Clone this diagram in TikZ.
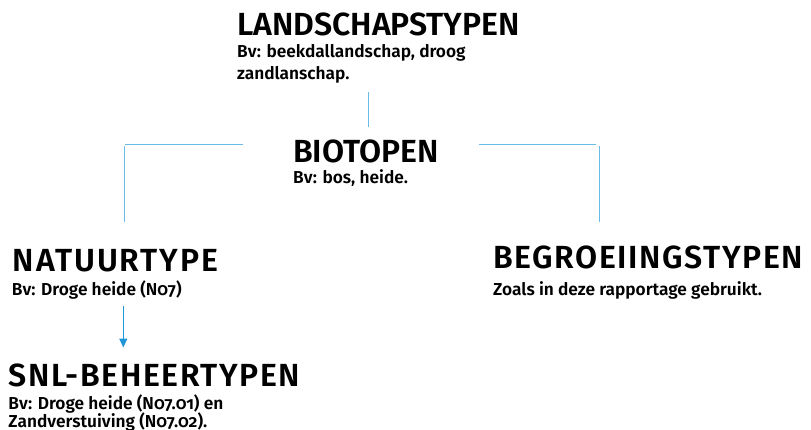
\documentclass[tikz,border=0pt]{standalone}
\usepackage{fontspec}
\setmainfont{Fira Sans}[Numbers=OldStyle, BoldFont={Fira Sans SemiBold}]
\usetikzlibrary{arrows.meta}
\definecolor{linecol}{RGB}{105,188,232}
\definecolor{arrowcol}{RGB}{30,150,215}
\tikzset{
  title/.style={anchor=base west, inner sep=0pt, font=\fontsize{32}{34}\selectfont\bfseries},
  sub/.style={anchor=base west, inner sep=0pt, font=\fontsize{17.3}{20}\selectfont\bfseries},
  conn/.style={draw=linecol, line width=1pt},
}
\begin{document}
\begin{tikzpicture}[x=1pt,y=-1pt]
\useasboundingbox (0,0) rectangle (811,430);
\node[title] (lt) at (237,36) {LANDSCHAPSTYPEN};
\node[sub] (ls1) at (237,57.5) {Bv: beekdallandschap, droog};
\node[sub] (ls2) at (237,79.5) {zandlanschap.};
\node[title] (bt) at (293,162.7) {BIOTOPEN};
\node[sub] (bs) at (293,184) {Bv: bos, heide.};
\node[title] (nt) at (12.7,271.7) {\addfontfeature{LetterSpace=6}NATUURTYPE};
\node[sub] (ns) at (11.7,295) {Bv: Droge heide (N07)};
\node[title] (st) at (8.3,386.7) {\addfontfeature{LetterSpace=5}SNL-BEHEERTYPEN};
\node[sub] (ss1) at (8.3,409) {Bv: Droge heide (N07.01) en};
\node[sub] (ss2) at (8.3,427) {Zandverstuiving (N07.02).};
\node[title] (gt) at (493,268.3) {\addfontfeature{LetterSpace=5}BEGROEIINGSTYPEN};
\node[sub] (gs) at (493,295) {Zoals in deze rapportage gebruikt.};
\coordinate (a1) at (368.5,92);
\coordinate (a2) at (368.5,126.7);
\draw[conn] (a1) -- (a2);
\coordinate (l1) at (242.7,144.3);
\coordinate (l2) at (125,144.3);
\coordinate (l3) at (124,146);
\coordinate (l4) at (124,221.7);
\draw[conn] (l1) -- (l2);
\draw[conn] (l3) -- (l4);
\coordinate (r1) at (479,144.3);
\coordinate (r2) at (596,144.3);
\coordinate (r3) at (599.5,146);
\coordinate (r4) at (599.5,221.7);
\draw[conn] (r1) -- (r2);
\draw[conn] (r3) -- (r4);
\coordinate (d1) at (123.3,306);
\coordinate (d2) at (123.3,347.5);
\draw[draw=arrowcol, line width=1.2pt, -{Triangle[length=9pt,width=8pt]}] (d1) -- (d2);
\end{tikzpicture}
\end{document}
